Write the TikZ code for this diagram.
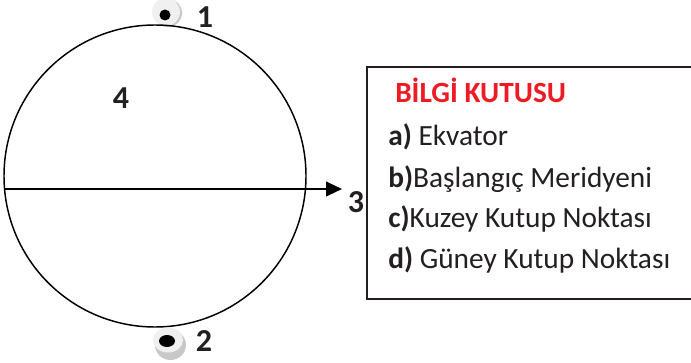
\documentclass[tikz,border=0pt]{standalone}
\usepackage{fontspec}
\setmainfont{Carlito}
\usepackage{xcolor}
\usetikzlibrary{arrows.meta,positioning}
\definecolor{titlered}{RGB}{237,28,36}
\definecolor{pinshadow}{RGB}{200,200,200}
\definecolor{pinface}{RGB}{240,240,240}
\definecolor{inktext}{RGB}{35,31,32}
\begin{document}
\begin{tikzpicture}[
    x=0.75pt, y=-0.75pt,
    num/.style={font=\fontsize{24}{24}\selectfont\bfseries, inner sep=0pt, text=inktext},
    infoline/.style={font=\fontsize{22}{22}\selectfont, inner sep=0pt, anchor=base west, text=inktext},
    arrow/.style={-{Triangle[length=12pt,width=11pt]}, line width=1.5pt},
    frame/.style={line width=1.4pt, inktext}
]
\useasboundingbox (0,0) rectangle (691,363);

% top pin
\fill[pinshadow] (168,13) circle (14);
\fill[pinface] (166,12) circle (14);
\fill[black] (165,15) circle (5.5);

% globe
\draw[line width=1.1pt] (155,176) circle (151);
\coordinate (west) at (4,189);
\coordinate (east) at (342,189);
\draw[arrow] (west) -- (east);

% bottom pin
\fill[pinshadow] (170.5,345) ellipse (15.5 and 15);
\fill[pinface] (168,340) ellipse (15 and 12.5);
\fill[black] (167,341) ellipse (8 and 6);

% numbers
\node[num] (n1) at (205,17) {1};
\node[num] (n2) at (204,341) {2};
\node[num] (n3) at (356,202) {3};
\node[num] (n4) at (121,98) {4};

% info box
\coordinate (boxtr) at (691,67);
\coordinate (boxtl) at (367,67);
\coordinate (boxbl) at (367,299);
\coordinate (boxbr) at (691,299);
\draw[frame] (boxtr) -- (boxtl) -- (boxbl) -- (boxbr);
\node[infoline, text=titlered] (title) at (395,103) {\textbf{BİLGİ KUTUSU}};
\node[infoline] (ekvator) at (388,146) {\textbf{a)} Ekvator};
\node[infoline] (merid) at (388,187) {\textbf{b)}Başlangıç Meridyeni};
\node[infoline] (kuzey) at (388,227) {\textbf{c)}Kuzey Kutup Noktası};
\node[infoline] (guney) at (388,268) {\textbf{d)} Güney Kutup Noktası};
\end{tikzpicture}
\end{document}
